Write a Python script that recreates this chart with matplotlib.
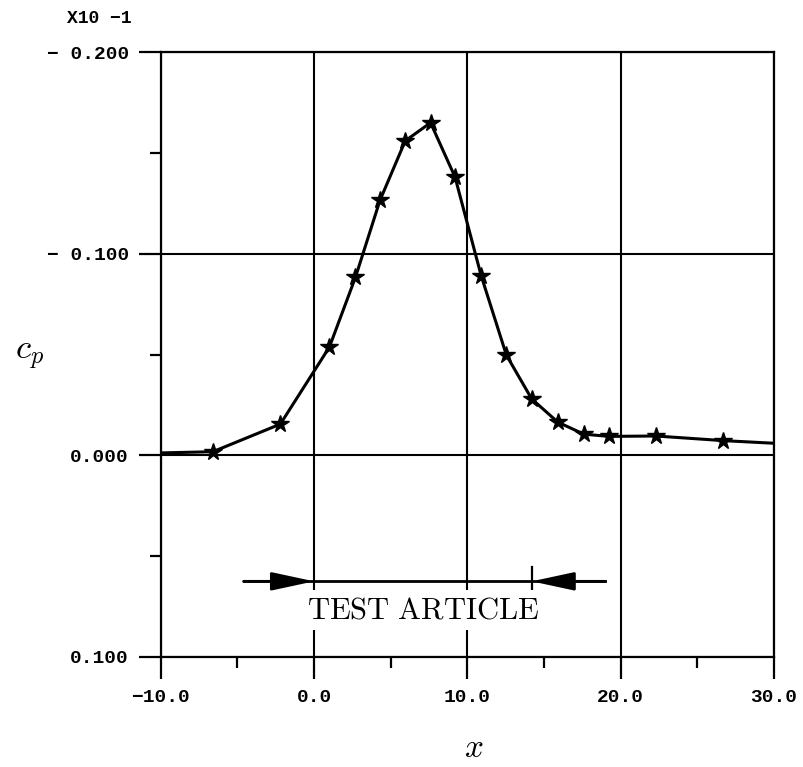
import numpy as np
import matplotlib
matplotlib.use('Agg')
import matplotlib.pyplot as plt
from matplotlib.ticker import FixedLocator

# pressure coefficient along x (curve ends at the axis limits carry no marker)
x_pts = [-10.0, -6.6, -2.2, 1.0, 2.7, 4.3, 5.95, 7.6, 9.2, 10.9, 12.55, 14.2, 15.9, 17.6, 19.25, 22.3, 26.7, 30.0]
cp_pts = [-0.0012, -0.0018, -0.0155, -0.0537, -0.0883, -0.1265, -0.1560, -0.1650, -0.1380, -0.0892,
          -0.0497, -0.0280, -0.0165, -0.0105, -0.0094, -0.0096, -0.0073, -0.0060]

x_major = [-10.0, 0.0, 10.0, 20.0, 30.0]
x_major_labels = ['\u221210.0', '0.0', '10.0', '20.0', '30.0']
x_minor = [-5.0, 5.0, 15.0, 25.0]
y_major = [-0.2, -0.1, 0.0, 0.1]
y_major_labels = ['\u2212 0.200', '\u2212 0.100', '0.000', '0.100']
y_minor = [-0.15, -0.05, 0.05]

# test article span
article_start = 0.0
article_end = 14.2
arrow_left_tail = -4.6
arrow_right_tail = 19.0
arrow_y = 0.0625
article_label = 'TEST ARTICLE'

plt.rcParams['mathtext.fontset'] = 'cm'
mono = ['Liberation Mono', 'DejaVu Sans Mono']

fig = plt.figure(figsize=(8.04, 7.67), dpi=100)
ax = fig.add_axes([0.2, 0.1435, 0.7625, 0.7885])

ax.set_xlim(-10, 30)
ax.set_ylim(0.1, -0.2)

# grid
for xv in x_major:
    ax.axvline(xv, color='k', lw=1.5, zorder=1)
for yv in y_major:
    ax.axhline(yv, color='k', lw=1.5, zorder=1)

ax.plot(x_pts, cp_pts, color='k', lw=2.2, marker='*', markersize=13,
        markevery=slice(1, len(x_pts) - 1), zorder=3)

# test article arrows
arrow_style = '-|>,head_length=1.3,head_width=0.28'
ax.plot([arrow_left_tail, arrow_right_tail], [arrow_y, arrow_y], color='k', lw=2, zorder=2)
ax.annotate('', xy=(article_start, arrow_y), xytext=(arrow_left_tail, arrow_y),
            arrowprops=dict(arrowstyle=arrow_style, mutation_scale=20, color='k', lw=2,
                            shrinkA=0, shrinkB=0), zorder=2)
ax.annotate('', xy=(article_end, arrow_y), xytext=(arrow_right_tail, arrow_y),
            arrowprops=dict(arrowstyle=arrow_style, mutation_scale=20, color='k', lw=2,
                            shrinkA=0, shrinkB=0), zorder=2)
ax.plot([article_end, article_end], [arrow_y - 0.007, arrow_y + 0.004], color='k', lw=1.6, zorder=2)
ax.text((article_start + article_end) / 2, 0.0765, r'$\mathrm{TEST\ ARTICLE}$', fontsize=22,
        ha='center', va='center', zorder=4,
        bbox=dict(facecolor='white', edgecolor='none', pad=4))

for s in ax.spines.values():
    s.set_linewidth(1.6)

ax.xaxis.set_major_locator(FixedLocator(x_major))
ax.xaxis.set_minor_locator(FixedLocator(x_minor))
ax.set_xticklabels(x_major_labels)
ax.yaxis.set_major_locator(FixedLocator(y_major))
ax.yaxis.set_minor_locator(FixedLocator(y_minor))
ax.set_yticklabels(y_major_labels)

ax.tick_params(which='major', direction='out', length=16, width=1.6, pad=7)
ax.tick_params(which='minor', direction='out', length=8, width=1.6)
for lab in ax.get_xticklabels() + ax.get_yticklabels():
    lab.set_family(mono)
    lab.set_weight('bold')
    lab.set_fontsize(14)

ax.text(-0.1, 1.055, 'X10 \u22121', transform=ax.transAxes, ha='center', va='center',
        family=mono, weight='bold', fontsize=13)

ax.set_xlabel('$x$', fontsize=24)
ax.xaxis.set_label_coords(0.51, -0.15)
ax.xaxis.label.set_va('center')
ax.set_ylabel('$c_p$', fontsize=25, rotation=0)
ax.yaxis.set_label_coords(-0.214, 0.5)
ax.yaxis.label.set_va('center')
ax.yaxis.label.set_ha('center')

fig.savefig('out.png', dpi=100, facecolor='white')
